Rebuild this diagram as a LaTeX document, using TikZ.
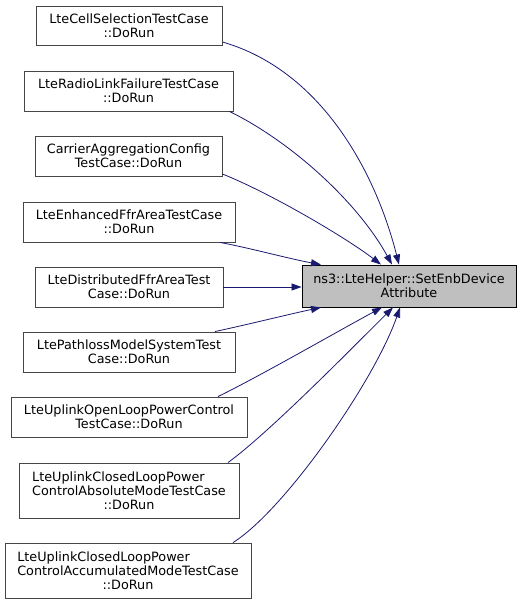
\documentclass[tikz,border=0pt]{standalone}
\usepackage{fontspec}
\setmainfont{DejaVu Sans}
\usepackage{calc}
\usetikzlibrary{arrows.meta}
\definecolor{edgec}{RGB}{25,25,112}
\definecolor{boxc}{RGB}{70,70,70}
\definecolor{tgtfill}{RGB}{191,191,191}
\newcommand{\lline}[2]{\makebox[\widthof{#2}][l]{#1}}
\begin{document}
\begin{tikzpicture}[x=1pt,y=-1pt,
  fn/.style={draw=boxc, fill=white, line width=0.9pt, inner sep=0pt, align=center,
    font=\fontsize{12.8}{14}\selectfont},
  tn/.style={fn, draw=black, fill=tgtfill},
  edge/.style={draw=edgec, line width=0.8pt, -{Triangle[length=10pt,width=7pt]}}
]
\useasboundingbox (0,0) rectangle (521,605);
\node[fn, minimum width=186pt, minimum height=39pt] (b1) at (129,25.5) {LteCellSelectionTestCase\\::DoRun};
\node[fn, minimum width=209pt, minimum height=40pt] (b2) at (128.5,91) {LteRadioLinkFailureTestCase\\::DoRun};
\node[fn, minimum width=187pt, minimum height=40pt] (b3) at (128.5,156) {CarrierAggregationConfig\\TestCase::DoRun};
\node[fn, minimum width=212pt, minimum height=40pt] (b4) at (129,222) {LteEnhancedFfrAreaTestCase\\::DoRun};
\node[fn, minimum width=188pt, minimum height=40pt] (b5) at (129,287) {LteDistributedFfrAreaTest\\Case::DoRun};
\node[fn, minimum width=212pt, minimum height=40pt] (b6) at (129,352) {LtePathlossModelSystemTest\\Case::DoRun};
\node[fn, minimum width=236pt, minimum height=40pt] (b7) at (129,417) {LteUplinkOpenLoopPowerControl\\TestCase::DoRun};
\node[fn, minimum width=220pt, minimum height=55pt] (b8) at (129,490.5) {\lline{LteUplinkClosedLoopPower}{ControlAbsoluteModeTestCase}\\ControlAbsoluteModeTestCase\\::DoRun};
\node[fn, minimum width=246pt, minimum height=55pt] (b9) at (128,570.5) {\lline{LteUplinkClosedLoopPower}{ControlAccumulatedModeTestCase}\\ControlAccumulatedModeTestCase\\::DoRun};
\node[tn, minimum width=214pt, minimum height=42pt] (t) at (409,286) {ns3::LteHelper::SetEnbDevice\\Attribute};

\draw[edge] ([yshift=-16.5pt]b1.east) .. controls (320,70) and (375,170) .. ([xshift=-10pt]t.north);
\draw[edge] ([xshift=101pt]b2.south) .. controls (290,141) and (357,201) .. ([xshift=-17pt]t.north);
\draw[edge] ([yshift=-18pt]b3.east) .. controls (270,193) and (345,237) .. ([xshift=-28pt]t.north);
\draw[edge] ([xshift=91pt]b4.south) .. controls (250,248) and (290,259) .. ([xshift=-88pt]t.north);
\draw[edge] (b5.east) -- (b5.east -| t.west);
\draw[edge] ([xshift=86pt]b6.north) .. controls (250,324) and (290,314) .. ([xshift=-88pt]t.south);
\draw[edge] ([xshift=89pt]b7.north) .. controls (262,375) and (340,330) .. ([xshift=-27pt]t.south);
\draw[edge] ([xshift=99pt]b8.north) .. controls (270,432) and (355,345) .. ([xshift=-16pt]t.south);
\draw[edge] ([xshift=105pt]b9.north) .. controls (285,510) and (375,380) .. ([xshift=-9pt]t.south);
\end{tikzpicture}
\end{document}
